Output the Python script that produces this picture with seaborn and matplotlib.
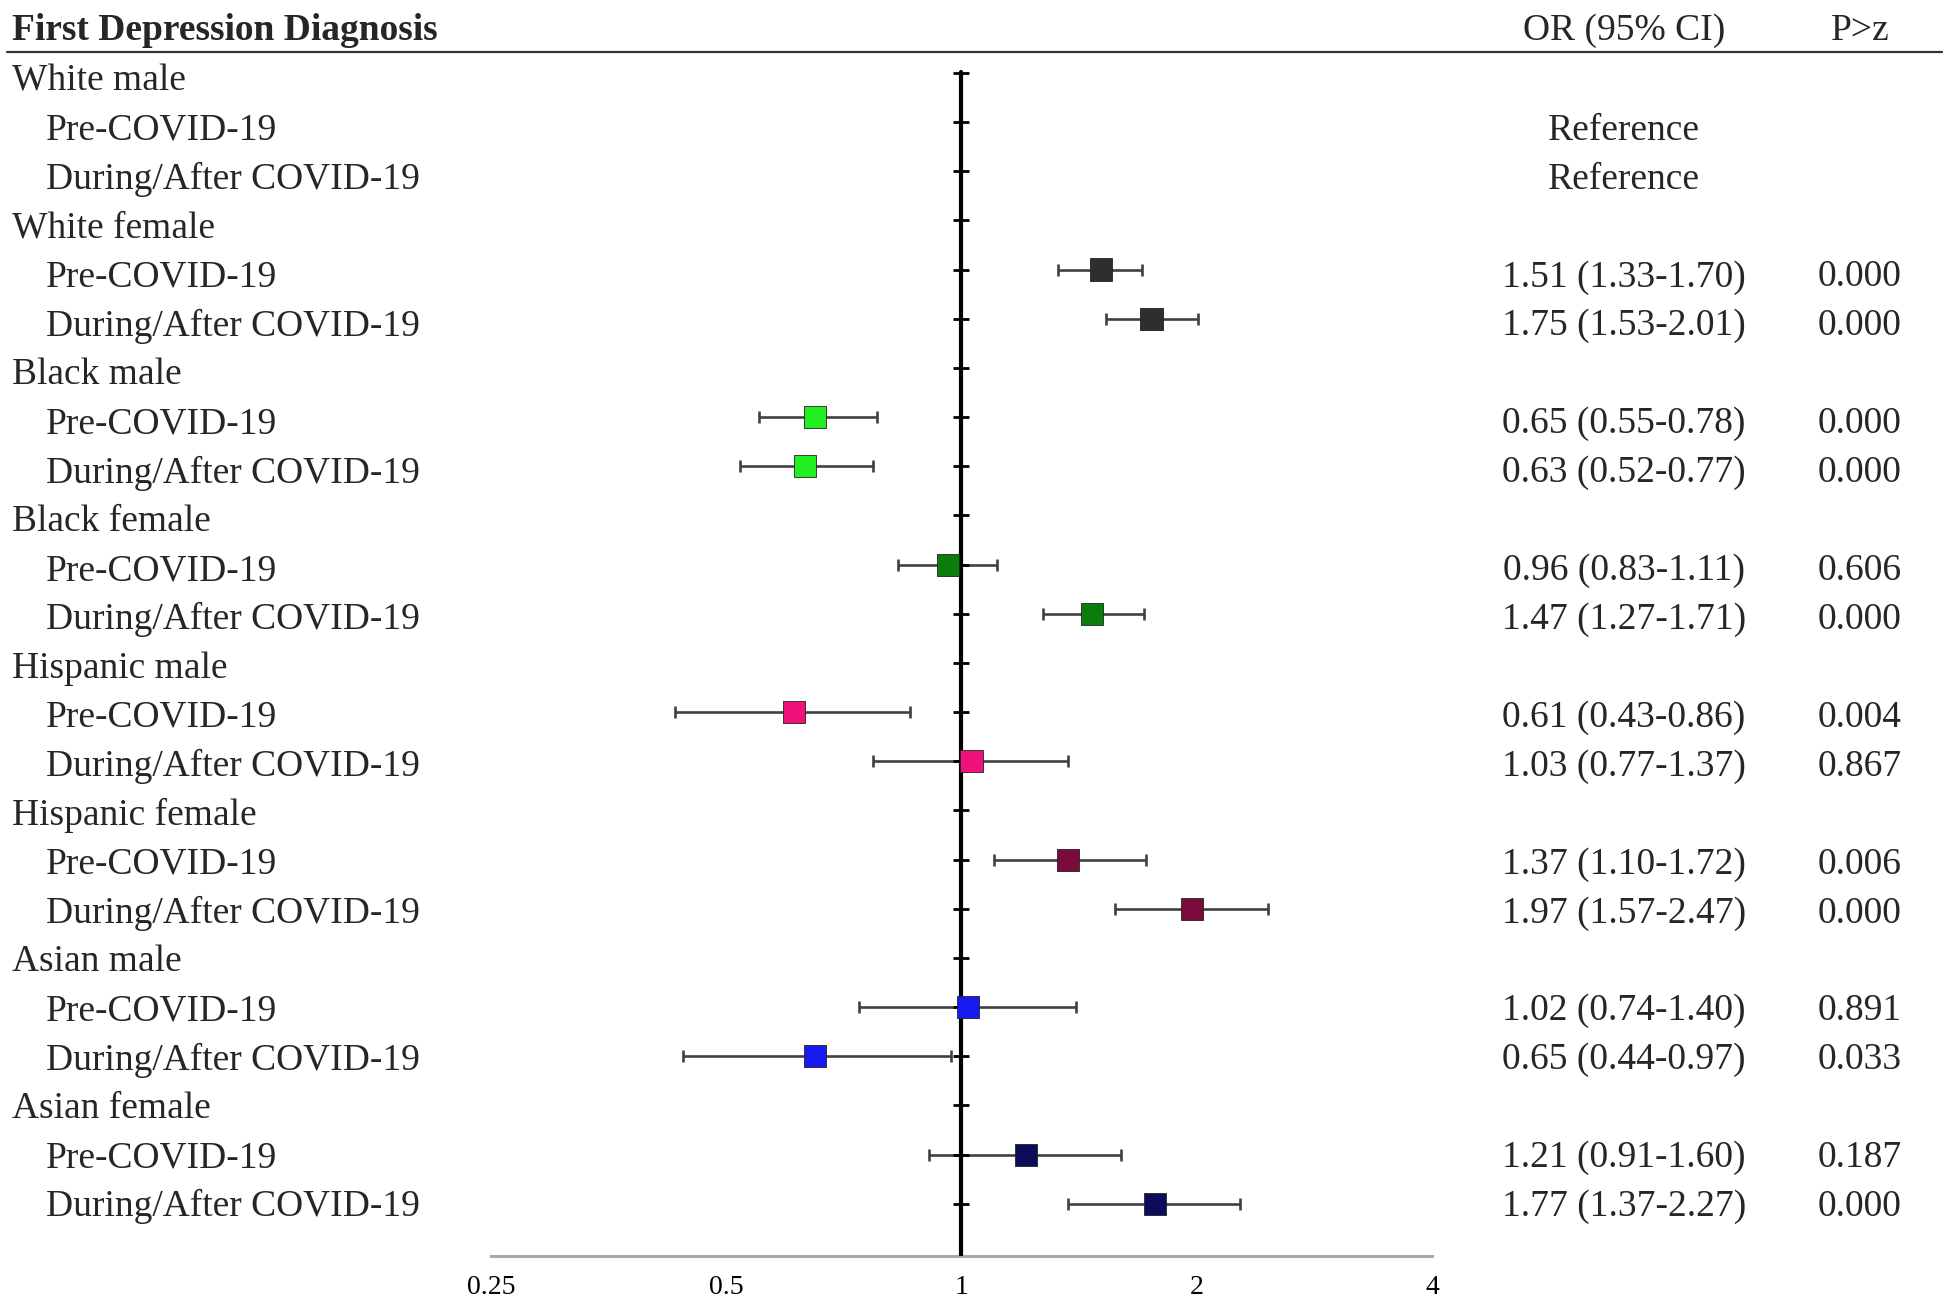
import numpy as np
import pandas as pd
import matplotlib
matplotlib.use("Agg")
import matplotlib.pyplot as plt
import matplotlib.transforms as mtransforms
from matplotlib.lines import Line2D
import seaborn as sns

# ---------------- data ----------------
title = "First Depression Diagnosis"
col_or = "OR (95% CI)"
col_p = "P>z"
groups = ["White male", "White female", "Black male", "Black female",
          "Hispanic male", "Hispanic female", "Asian male", "Asian female"]
periods = ["Pre-COVID-19", "During/After COVID-19"]
or_vals = [np.nan, np.nan, 1.51, 1.75, 0.65, 0.63, 0.96, 1.47,
           0.61, 1.03, 1.37, 1.97, 1.02, 0.65, 1.21, 1.77]
ci_lo = [np.nan, np.nan, 1.33, 1.53, 0.55, 0.52, 0.83, 1.27,
         0.43, 0.77, 1.10, 1.57, 0.74, 0.44, 0.91, 1.37]
ci_hi = [np.nan, np.nan, 1.70, 2.01, 0.78, 0.77, 1.11, 1.71,
         0.86, 1.37, 1.72, 2.47, 1.40, 0.97, 1.60, 2.27]
or_text = ["Reference", "Reference",
           "1.51 (1.33-1.70)", "1.75 (1.53-2.01)",
           "0.65 (0.55-0.78)", "0.63 (0.52-0.77)",
           "0.96 (0.83-1.11)", "1.47 (1.27-1.71)",
           "0.61 (0.43-0.86)", "1.03 (0.77-1.37)",
           "1.37 (1.10-1.72)", "1.97 (1.57-2.47)",
           "1.02 (0.74-1.40)", "0.65 (0.44-0.97)",
           "1.21 (0.91-1.60)", "1.77 (1.37-2.27)"]
p_text = ["", "", "0.000", "0.000", "0.000", "0.000", "0.606", "0.000",
          "0.004", "0.867", "0.006", "0.000", "0.891", "0.033", "0.187", "0.000"]
group_colors = ["#2e2e2e", "#2e2e2e", "#22ee22", "#0b7d0b",
                "#f0127a", "#7d0a3c", "#1818f0", "#0c0c5a"]
x_ticks = [0.25, 0.5, 1, 2, 4]
x_ticklabels = ["0.25", "0.5", "1", "2", "4"]

# ---------------- table of rows ----------------
recs = []
k = 0
for gi, g in enumerate(groups):
    for pi, p in enumerate(periods):
        recs.append(dict(group=g, period=p, row=gi * 3 + 1 + pi,
                         OR=or_vals[k], lo=ci_lo[k], hi=ci_hi[k],
                         ortxt=or_text[k], ptxt=p_text[k]))
        k += 1
df = pd.DataFrame(recs)
n_rows = len(groups) * 3
palette = dict(zip(groups, group_colors))

# ---------------- figure ----------------
sns.set_theme(style="white")
plt.rcParams["font.family"] = ["Liberation Serif", "DejaVu Serif"]

W, H = 1948, 1301
fig = plt.figure(figsize=(W / 100, H / 100), dpi=100)
ax_left, ax_right = 491, 1432
ax_top, ax_bot = 52, 1256
ax = fig.add_axes([ax_left / W, 1 - ax_bot / H, (ax_right - ax_left) / W,
                   (ax_bot - ax_top) / H])

row0, rstep = 72.9, 49.17
ax.set_ylim((ax_bot - row0) / rstep, (ax_top - row0) / rstep)
ax.set_xscale("log", base=2)
ax.set_xlim(0.25, 4)


def text_y(i):
    # text rows sit slightly lower than the marker rows
    return i + 0.175 - 0.0049 * i


plot_df = df.dropna(subset=["OR"])
ax.errorbar(plot_df["OR"], plot_df["row"],
            xerr=[plot_df["OR"] - plot_df["lo"], plot_df["hi"] - plot_df["OR"]],
            fmt="none", ecolor="#404040", elinewidth=1.9, capsize=4.5,
            capthick=1.9, zorder=2)
sns.scatterplot(data=plot_df, x="OR", y="row", hue="group", palette=palette,
                marker="s", s=255, linewidth=0.6, edgecolor="#222222",
                legend=False, ax=ax, zorder=4)

# reference line at 1 with small ticks at each row
ymax_frac = (ax_bot - 72) / (ax_bot - ax_top)
ax.axvline(1, ymin=0, ymax=ymax_frac, color="black", lw=3, zorder=3)
ax.plot(np.ones(n_rows), np.arange(n_rows), ls="none", marker="_",
        ms=12, mew=2, color="black", zorder=3)

# axes styling
for s in ["left", "top", "right"]:
    ax.spines[s].set_visible(False)
ax.spines["bottom"].set_color("#a8a8a8")
ax.spines["bottom"].set_linewidth(2.2)
ax.set_xticks(x_ticks)
ax.set_xticklabels(x_ticklabels)
ax.xaxis.set_minor_locator(matplotlib.ticker.NullLocator())
ax.tick_params(axis="x", length=0, pad=14, labelsize=20, colors="black")
ax.tick_params(axis="y", left=False, labelleft=False)
ax.set_xlabel("")
ax.set_ylabel("")
ax.grid(False)

# ---------------- text ----------------
FS = 27
trans = mtransforms.blended_transform_factory(fig.transFigure, ax.transData)
for gi, g in enumerate(groups):
    ax.text(12 / W, text_y(gi * 3), g, transform=trans, fontsize=FS,
            va="center", ha="left", clip_on=False)
for _, r in df.iterrows():
    ty = text_y(r["row"])
    ax.text(46 / W, ty, r["period"], transform=trans, fontsize=FS,
            va="center", ha="left", clip_on=False)
    ax.text(1624 / W, ty, r["ortxt"], transform=trans, fontsize=FS,
            va="center", ha="center", clip_on=False)
    if r["ptxt"]:
        ax.text(1860 / W, ty, r["ptxt"], transform=trans, fontsize=FS,
                va="center", ha="center", clip_on=False)

hy = 1 - 31 / H
fig.text(12 / W, hy, title, fontsize=FS, fontweight="bold", va="center", ha="left")
fig.text(1624 / W, hy, col_or, fontsize=FS, va="center", ha="center")
fig.text(1860 / W, hy, col_p, fontsize=FS, va="center", ha="center")
fig.add_artist(Line2D([7 / W, 1942 / W], [1 - 52 / H, 1 - 52 / H],
                      transform=fig.transFigure, color="#333333", lw=1.6))

fig.savefig("out.png", dpi=100, facecolor="white")
